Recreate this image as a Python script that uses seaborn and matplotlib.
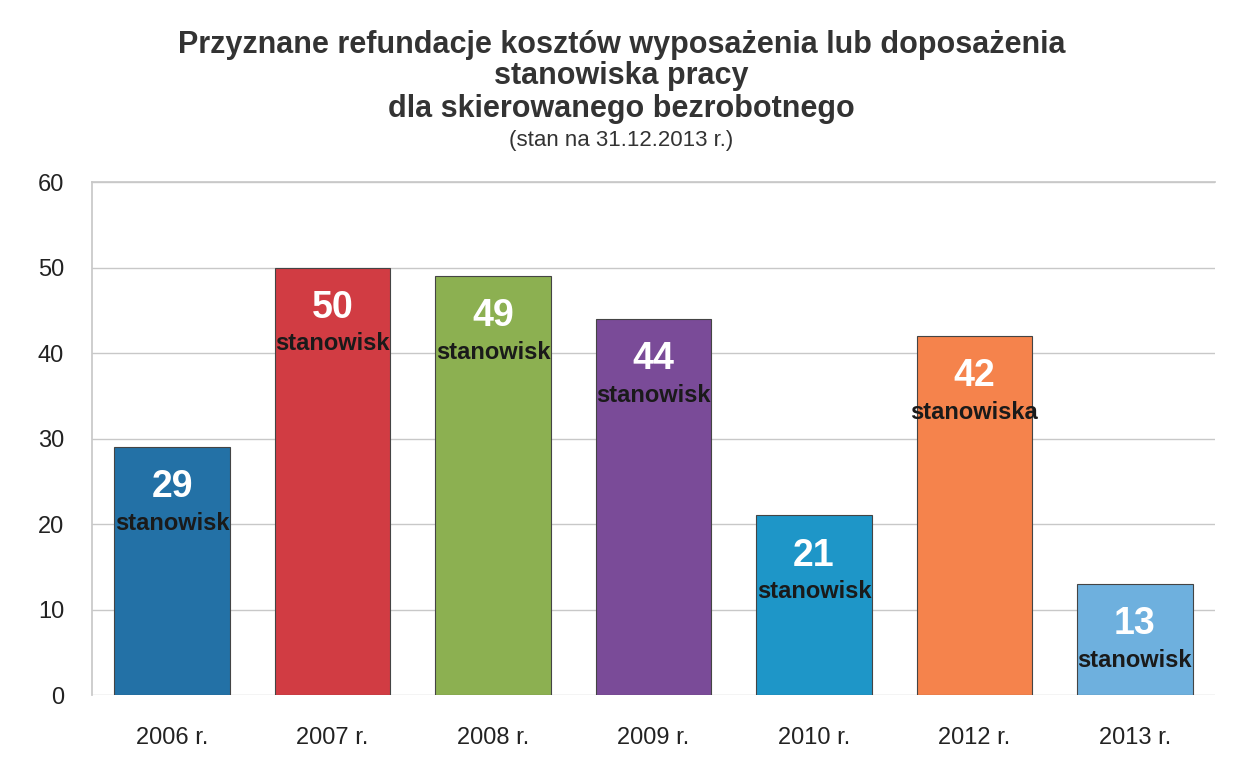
import pandas as pd
import seaborn as sns
import matplotlib.pyplot as plt

# Data
years = ['2006 r.', '2007 r.', '2008 r.', '2009 r.', '2010 r.', '2012 r.', '2013 r.']
counts = [29, 50, 49, 44, 21, 42, 13]
units = ['stanowisk', 'stanowisk', 'stanowisk', 'stanowisk', 'stanowisk', 'stanowiska', 'stanowisk']
bar_colors = ['#2371a6', '#d13c43', '#8cb051', '#7a4b98', '#1e96c8', '#f5834c', '#6eb0de']

df = pd.DataFrame({'rok': years, 'liczba': counts})

sns.set_theme(style='whitegrid')
plt.rcParams['font.family'] = ['Liberation Sans', 'DejaVu Sans']

fig = plt.figure(figsize=(12.43, 7.68), dpi=100)
ax = fig.add_axes([0.074, 0.095, 0.9035, 0.668])

sns.barplot(data=df, x='rok', y='liczba', hue='rok', palette=bar_colors, saturation=1,
            legend=False, width=0.72, edgecolor='#444444', linewidth=0.8, ax=ax)

# value + unit labels inside the bars
for i, (v, u) in enumerate(zip(counts, units)):
    ax.annotate(str(v), (i, v), xytext=(0, -29), textcoords='offset points',
                ha='center', va='center', color='white', fontsize=27, fontweight='bold')
    ax.annotate(u, (i, v), xytext=(0, -55), textcoords='offset points',
                ha='center', va='center', color='#1a1a1a', fontsize=17, fontweight='bold')

ax.set_ylim(0, 60)
ax.set_yticks(range(0, 61, 10))
ax.set_xlim(-0.5, len(years) - 0.5)
ax.set_xlabel('')
ax.set_ylabel('')
ax.grid(axis='x', visible=False)
ax.grid(axis='y', color='#c8c8c8', linewidth=1)
for side in ['right', 'bottom']:
    ax.spines[side].set_visible(False)
ax.spines['left'].set_color('#c8c8c8')
ax.spines['top'].set_color('#c8c8c8')
ax.tick_params(axis='y', labelsize=17, colors='#222222', pad=14)
ax.tick_params(axis='x', labelsize=17, colors='#222222', pad=17)

fig.text(0.5, 0.941, 'Przyznane refundacje kosztów wyposażenia lub doposażenia',
         ha='center', va='center', fontsize=22, fontweight='bold', color='#333333')
fig.text(0.5, 0.901, 'stanowiska pracy', ha='center', va='center',
         fontsize=22, fontweight='bold', color='#333333')
fig.text(0.5, 0.858, 'dla skierowanego bezrobotnego', ha='center', va='center',
         fontsize=22, fontweight='bold', color='#333333')
fig.text(0.5, 0.817, '(stan na 31.12.2013 r.)', ha='center', va='center',
         fontsize=16, color='#333333')

fig.savefig('out.png', dpi=100, facecolor='white')
